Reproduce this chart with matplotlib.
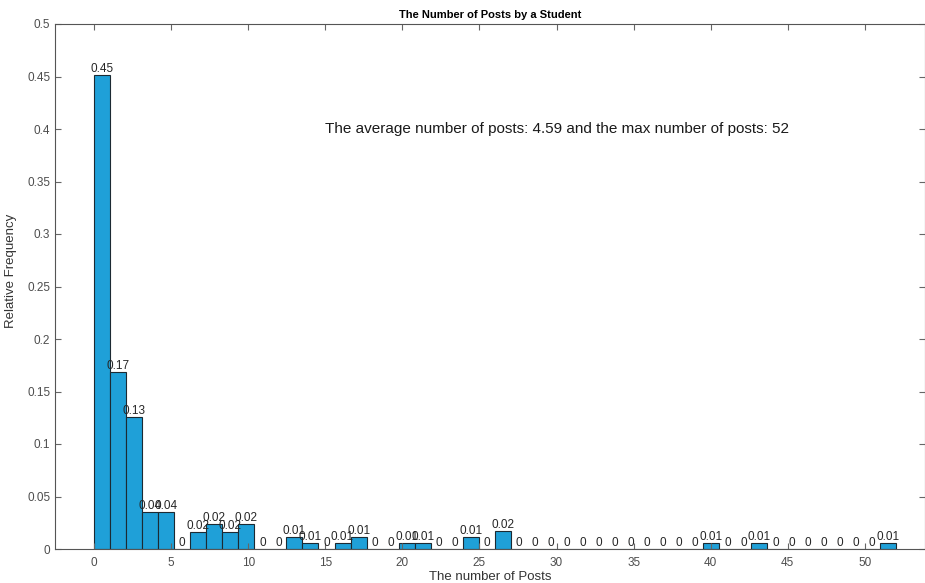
#!/usr/bin/env python3
# -*- coding: utf-8 -*-

import numpy as np
from matplotlib import pyplot as plt

# histogram of posts per student, 50 bins from 0 to max
max_posts = 52
n_bins = 50
rel_freq = [0.451, 0.169, 0.126, 0.0355, 0.0355, 0.0, 0.0165, 0.0235, 0.0165, 0.0235,
            0.0, 0.0, 0.011, 0.0057, 0.0, 0.0057, 0.011, 0.0, 0.0, 0.0057,
            0.0057, 0.0, 0.0, 0.011, 0.0, 0.017, 0.0, 0.0, 0.0, 0.0,
            0.0, 0.0, 0.0, 0.0, 0.0, 0.0, 0.0, 0.0, 0.0057, 0.0,
            0.0, 0.0057, 0.0, 0.0, 0.0, 0.0, 0.0, 0.0, 0.0, 0.0057]
avg_posts = 4.59
x_ticks = list(range(0, 51, 5))
y_ticks = [0, 0.05, 0.1, 0.15, 0.2, 0.25, 0.3, 0.35, 0.4, 0.45, 0.5]


def fmt(v):
    # matlab-ish num2str(round(v, 2))
    s = '{:.2f}'.format(round(v, 2)).rstrip('0').rstrip('.')
    return s if s else '0'


def main():
    plt.rcParams['font.family'] = ['Liberation Sans', 'DejaVu Sans']
    fig = plt.figure(figsize=(9.25, 5.83), dpi=100)
    ax = fig.add_axes([55 / 925, 34 / 583, 1 - 55 / 925, 525 / 583])

    edges = np.linspace(0, max_posts, n_bins + 1)
    width = edges[1] - edges[0]
    ax.bar(edges[:-1], rel_freq, width=width, align='edge',
           color='#1fa0d8', edgecolor='#1c2a33', linewidth=0.8)

    # value labels above every bin (they overlap where bins are close, as in matlab)
    for left, v in zip(edges[:-1], rel_freq):
        ax.text(left + width / 2, v, fmt(v), ha='center', va='bottom',
                fontsize=8.5, color='#262626')

    ax.text(15, 0.4, 'The average number of posts: {} and the max number of posts: {}'
            .format(avg_posts, max_posts), fontsize=11, va='center', color='#1a1a1a')

    ax.set_xlim(-2.53, 53.9)
    ax.set_ylim(0, 0.5)
    ax.set_xticks(x_ticks)
    ax.set_yticks(y_ticks)
    ax.set_yticklabels([fmt(t) for t in y_ticks])
    ax.tick_params(direction='in', length=4, top=True, right=True,
                   labelsize=8.5, labelcolor='#4d4d4d', color='#666666')
    ax.tick_params(axis='x', pad=6)
    for s in ax.spines.values():
        s.set_color('#555555')
        s.set_linewidth(0.8)

    ax.set_title('The Number of Posts by a Student', fontsize=8, fontweight='bold', pad=4)
    ax.set_xlabel('The number of Posts', fontsize=9.5, color='#333333', labelpad=1)
    ax.set_ylabel('Relative Frequency', fontsize=9.5, color='#333333')
    ax.yaxis.set_label_coords(-0.044, 0.53)

    fig.savefig('out.png', dpi=100)


if __name__ == "__main__":
    main()
